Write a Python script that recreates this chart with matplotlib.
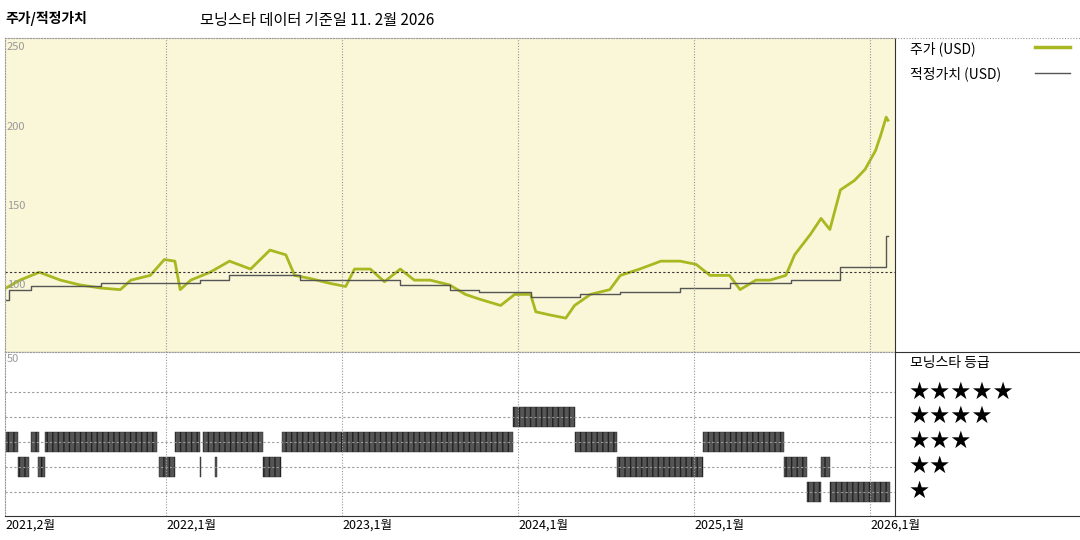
import matplotlib.pyplot as plt

plt.rcParams['font.family'] = ['Noto Sans CJK KR', 'DejaVu Sans']

# price data (decimal year, USD)
price_t = [2021.09, 2021.17, 2021.28, 2021.40, 2021.51, 2021.63, 2021.74, 2021.80, 2021.91, 2021.99,
           2022.05, 2022.08, 2022.14, 2022.25, 2022.36, 2022.48, 2022.59, 2022.68, 2022.73, 2022.82,
           2022.93, 2023.02, 2023.07, 2023.16, 2023.24, 2023.33, 2023.41, 2023.50, 2023.61, 2023.70,
           2023.78, 2023.90, 2023.98, 2024.07, 2024.10, 2024.18, 2024.27, 2024.32, 2024.41, 2024.52,
           2024.58, 2024.69, 2024.81, 2024.92, 2025.01, 2025.09, 2025.20, 2025.26, 2025.35, 2025.43,
           2025.52, 2025.57, 2025.66, 2025.72, 2025.77, 2025.83, 2025.91, 2025.97, 2026.03, 2026.06,
           2026.09, 2026.10]
price_v = [98, 103, 108, 103, 100, 98, 97, 103, 106, 116,
           115, 97, 103, 108, 115, 110, 122, 119, 106, 104,
           101, 99, 110, 110, 102, 110, 103, 103, 100, 94,
           91, 87, 94, 94, 83, 81, 79, 87, 94, 97,
           106, 110, 115, 115, 113, 106, 106, 97, 103, 103,
           106, 119, 132, 142, 135, 160, 166, 173, 185, 195,
           206, 204]

fair_t = [2021.09, 2021.11, 2021.23, 2021.63, 2022.19, 2022.36, 2022.76, 2023.33, 2023.61, 2023.78,
          2024.07, 2024.35, 2024.58, 2024.92, 2025.20, 2025.55, 2025.83, 2026.09, 2026.10]
fair_v = [90.5, 97, 99, 101, 103, 106, 103, 100, 97, 95.5,
          92.5, 94, 95.5, 98, 101, 103, 111, 131, 131]

ref_level = 108

# star rating periods: (stars, start, end)
ratings = [
    (3, 2021.09, 2021.16), (3, 2021.23, 2021.28), (3, 2021.31, 2021.95), (3, 2022.05, 2022.19),
    (3, 2022.21, 2022.55), (3, 2022.66, 2023.97), (3, 2024.32, 2024.56), (3, 2025.05, 2025.51),
    (2, 2021.16, 2021.22), (2, 2021.27, 2021.31), (2, 2021.96, 2022.05), (2, 2022.19, 2022.20),
    (2, 2022.28, 2022.29), (2, 2022.55, 2022.65), (2, 2024.56, 2025.05), (2, 2025.51, 2025.64),
    (2, 2025.72, 2025.77),
    (4, 2023.97, 2024.32),
    (1, 2025.64, 2025.72), (1, 2025.77, 2026.11),
]

year_ticks = [2021.085, 2022, 2023, 2024, 2025, 2026]
year_labels = ['2021,2월', '2022,1월', '2023,1월', '2024,1월', '2025,1월', '2026,1월']

W, H = 1080, 540
fig = plt.figure(figsize=(10.8, 5.4), dpi=100)
xlim = (2021.085, 2026.14)

ax1 = fig.add_axes([5 / W, 1 - 352 / H, 890 / W, 314 / H])
ax1.set_facecolor('#faf6d8')
ax1.plot(price_t, price_v, color='#a8b820', lw=2)
ax1.plot(fair_t, fair_v, color='#555555', lw=1, drawstyle='steps-post')
ax1.axhline(ref_level, color='#333333', lw=0.8, ls=(0, (2, 2)))
ax1.set_xlim(xlim)
ax1.set_ylim(57.6, 256)
for yr in year_ticks[1:]:
    ax1.axvline(yr, color='#999999', lw=0.8, ls=(0, (1, 1.5)))
for v in [250, 200, 150, 100]:
    ax1.text(xlim[0] + 0.01, v, str(v), fontsize=8, color='#999999', va='center', ha='left')
ax1.set_xticks([])
ax1.set_yticks([])

ax2 = fig.add_axes([5 / W, 1 - 516 / H, 890 / W, 164 / H])
ax2.set_xlim(xlim)
ax2.set_ylim(0.04, 6.6)
for s in range(1, 6):
    ax2.axhline(s, color='#999999', lw=0.8, ls=(0, (2, 2)))
for yr in year_ticks[1:]:
    ax2.axvline(yr, color='#999999', lw=0.8, ls=(0, (1, 1.5)))
for stars, t0, t1 in ratings:
    ax2.broken_barh([(t0, t1 - t0)], (stars - 0.4, 0.8), facecolor='#555555',
                    edgecolor='#222222', hatch='|||', lw=0.3)
ax2.text(xlim[0] + 0.01, 6.3, '50', fontsize=8, color='#999999', va='center', ha='left')
ax2.set_yticks([])
ax2.set_xticks(year_ticks)
ax2.set_xticklabels(year_labels, ha='left', fontsize=9)
ax2.tick_params(axis='x', length=0, pad=2)

for ax in (ax1, ax2):
    for sp in ax.spines.values():
        sp.set_color('#999999')
        sp.set_linestyle((0, (1, 1.5)))
        sp.set_linewidth(0.8)
for ax, side in [(ax2, 'bottom'), (ax1, 'right'), (ax2, 'right'), (ax1, 'bottom')]:
    ax.spines[side].set_color('#333333')
    ax.spines[side].set_linestyle('-')

# right-hand legend panel
fig.add_artist(plt.Line2D([895 / W, 1], [1 - 352 / H] * 2, color='#333333', lw=0.8))
fig.add_artist(plt.Line2D([895 / W, 1], [1 - 516 / H] * 2, color='#333333', lw=0.8))
fig.add_artist(plt.Line2D([895 / W, 1], [1 - 38 / H] * 2, color='#999999', lw=0.8, ls=(0, (1, 1.5))))
fig.text(910 / W, 1 - 49 / H, '주가 (USD)', fontsize=10, va='center')
fig.add_artist(plt.Line2D([1035 / W, 1070 / W], [1 - 47 / H] * 2, color='#a8b820', lw=2.5))
fig.text(910 / W, 1 - 74 / H, '적정가치 (USD)', fontsize=10, va='center')
fig.add_artist(plt.Line2D([1035 / W, 1070 / W], [1 - 73 / H] * 2, color='#555555', lw=1))
fig.text(910 / W, 1 - 363 / H, '모닝스타 등급', fontsize=10, va='center')
star_y = {5: 392, 4: 416, 3: 441, 2: 466, 1: 491}
for s, yp in star_y.items():
    fig.text(908 / W, 1 - yp / H, '★' * s, fontsize=17, va='center',
             family=['DejaVu Sans'])

fig.text(5 / W, 1 - 18 / H, '주가/적정가치', fontsize=10, fontweight='bold', va='center')
fig.text(200 / W, 1 - 20 / H, '모닝스타 데이터 기준일 11. 2월 2026', fontsize=11, va='center')

fig.savefig('out.png', dpi=100)
